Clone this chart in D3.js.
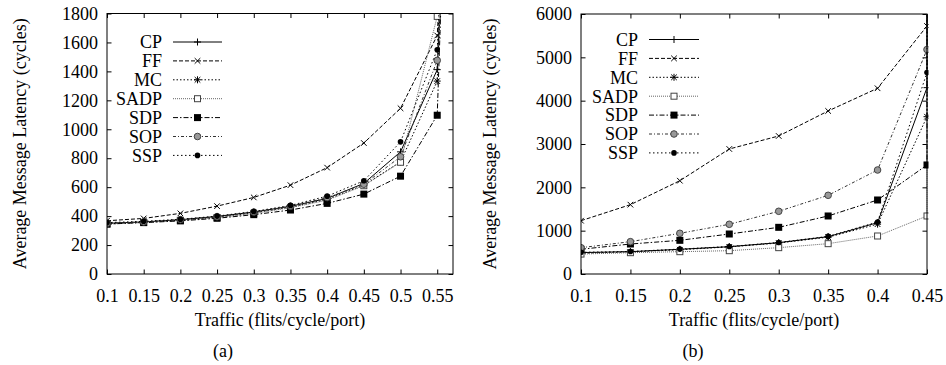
<!DOCTYPE html>
<html>
<head>
<meta charset="utf-8">
<script src="https://cdn.jsdelivr.net/npm/d3@7"></script>
<style>
  body { margin: 0; background: #fff; }
  svg { display: block; }
  text { font-family: "Liberation Serif", "Times New Roman", serif; fill: #000; }
</style>
</head>
<body>
<div id="chart"></div>
<script>
// ---- data ----
const seriesNames = ["CP", "FF", "MC", "SADP", "SDP", "SOP", "SSP"];

// panel (a)
const trafficA = [0.1, 0.15, 0.2, 0.25, 0.3, 0.35, 0.4, 0.45, 0.5, 0.55, 0.56];
const cpA   = [350, 360, 375, 398, 428, 468, 522, 626, 844, 1412, 2600];
const ffA   = [368, 384, 419, 469, 529, 614, 735, 905, 1145, 1648, 2600];
const mcA   = [348, 358, 372, 393, 422, 462, 515, 614, 775, 1333, 2600];
const sadpA = [345, 356, 370, 390, 418, 458, 510, 610, 772, 1780, 2600];
const sdpA  = [345, 355, 367, 385, 410, 442, 488, 552, 676, 1097, 2600];
const sopA  = [350, 360, 376, 396, 428, 468, 528, 620, 810, 1476, 2600];
const sspA  = [355, 364, 378, 400, 432, 474, 538, 644, 913, 1550, 2600];
const xTicksA = [0.1, 0.15, 0.2, 0.25, 0.3, 0.35, 0.4, 0.45, 0.5, 0.55];
const yTicksA = [0, 200, 400, 600, 800, 1000, 1200, 1400, 1600, 1800];

// panel (b)
const trafficB = [0.1, 0.15, 0.2, 0.25, 0.3, 0.35, 0.4, 0.45, 0.4502];
const cpB   = [495, 515, 570, 630, 723, 862, 1185, 4300, 9000];
const ffB   = [1230, 1600, 2153, 2885, 3185, 3762, 4286, 5723, 9000];
const mcB   = [480, 510, 560, 625, 715, 850, 1150, 3630, 9000];
const sadpB = [460, 492, 515, 538, 608, 700, 877, 1339, 9000];
const sdpB  = [570, 692, 777, 923, 1077, 1339, 1708, 2516, 9000];
const sopB  = [607, 746, 939, 1147, 1447, 1816, 2400, 5180, 9000];
const sspB  = [500, 520, 575, 635, 728, 868, 1200, 4650, 9000];
const xTicksB = [0.1, 0.15, 0.2, 0.25, 0.3, 0.35, 0.4, 0.45];
const yTicksB = [0, 1000, 2000, 3000, 4000, 5000, 6000];

const xTitle = "Traffic (flits/cycle/port)";
const yTitle = "Average Message Latency (cycles)";

// line / marker styles per series
const STYLE = {
    CP:   {stroke: "#000", dash: null,          marker: "plus"},
    FF:   {stroke: "#000", dash: "4,2",         marker: "cross"},
    MC:   {stroke: "#000", dash: "1.5,2",       marker: "star"},
    SADP: {stroke: "#666", dash: "1,1",         marker: "square"},
    SDP:  {stroke: "#000", dash: "5,2,1.5,2",   marker: "fsquare"},
    SOP:  {stroke: "#333", dash: "3,2,1,2",     marker: "circle"},
    SSP:  {stroke: "#000", dash: "1.5,2.5",     marker: "fcircle"}
};

const W = 946, H = 365;
const svg = d3.select("#chart").append("svg").attr("width", W).attr("height", H);

function drawMarker(g, type, cx, cy) {
    const m = g.append("g").attr("transform", `translate(${cx},${cy})`);
    const s = 3.5;
    if (type === "plus" || type === "star") {
        m.append("path").attr("d", `M${-s},0H${s}M0,${-s}V${s}`).attr("stroke", "#000").attr("stroke-width", 1);
    }
    if (type === "cross" || type === "star") {
        const d = 2.8;
        m.append("path").attr("d", `M${-d},${-d}L${d},${d}M${-d},${d}L${d},${-d}`).attr("stroke", "#000").attr("stroke-width", 1);
    }
    if (type === "square") {
        m.append("rect").attr("x", -3).attr("y", -3).attr("width", 6).attr("height", 6)
            .attr("fill", "#fff").attr("stroke", "#444").attr("stroke-width", 1);
    }
    if (type === "fsquare") {
        m.append("rect").attr("x", -3.5).attr("y", -3.5).attr("width", 7).attr("height", 7).attr("fill", "#000");
    }
    if (type === "circle") {
        m.append("circle").attr("r", 3.3).attr("fill", "#999").attr("stroke", "#444").attr("stroke-width", 1);
    }
    if (type === "fcircle") {
        m.append("circle").attr("r", 2.8).attr("fill", "#000");
    }
}

function drawPanel(p) {
    const {left, top, width, height} = p;
    const g = svg.append("g").attr("id", p.id).attr("transform", `translate(${left},${top})`);

    const x = d3.scaleLinear().domain(p.xDomain).range([0, width]);
    const y = d3.scaleLinear().domain(p.yDomain).range([height, 0]);

    // a little slack on the right so saturated (vertical) segments show on the border
    g.append("clipPath").attr("id", `clip-${p.id}`)
        .append("rect").attr("width", width + 1.5).attr("height", height);

    // axes with inward ticks, mirrored on top/right
    const tk = 4.5;
    const fmt = d => String(d);
    const ax = g.append("g").attr("class", "axes");
    ax.append("g").attr("transform", `translate(0,${height})`)
        .call(d3.axisBottom(x).tickValues(p.xTicks).tickSize(-tk).tickPadding(15).tickFormat(fmt));
    ax.append("g")
        .call(d3.axisTop(x).tickValues(p.xTicks).tickSize(-tk).tickFormat(""));
    ax.append("g")
        .call(d3.axisLeft(y).tickValues(p.yTicks).tickSize(-tk).tickPadding(9).tickFormat(fmt));
    ax.append("g").attr("transform", `translate(${width},0)`)
        .call(d3.axisRight(y).tickValues(p.yTicks).tickSize(-tk).tickFormat(""));
    ax.selectAll(".domain").remove();
    ax.selectAll(".tick line").attr("stroke", "#000").attr("stroke-width", 1);
    ax.selectAll(".tick text").style("font-family", "Liberation Serif").style("font-size", "18px");

    // series
    const plot = g.append("g").attr("clip-path", `url(#clip-${p.id})`);
    const line = d3.line().x(d => x(d[0])).y(d => y(d[1]));
    p.series.forEach((vals, i) => {
        const name = seriesNames[i];
        const st = STYLE[name];
        const pts = p.traffic.map((t, j) => [t, vals[j]]);
        plot.append("path").datum(pts)
            .attr("fill", "none")
            .attr("stroke", st.stroke)
            .attr("stroke-width", 1)
            .attr("stroke-dasharray", st.dash)
            .attr("d", line);
        pts.filter(d => d[0] <= p.xDomain[1] && d[1] <= p.yDomain[1])
            .forEach(d => drawMarker(plot, st.marker, x(d[0]), y(d[1])));
    });

    // frame
    g.append("rect").attr("width", width).attr("height", height)
        .attr("fill", "none").attr("stroke", "#000").attr("stroke-width", 1);

    // legend
    const lg = g.append("g").attr("class", "legend");
    seriesNames.forEach((name, i) => {
        const st = STYLE[name];
        const cy = p.legend.y0 - top + i * 18.9;
        lg.append("text")
            .attr("x", p.legend.textRight - left)
            .attr("y", cy)
            .attr("dy", "0.35em")
            .attr("text-anchor", "end")
            .style("font-size", "18px")
            .text(name);
        lg.append("line")
            .attr("x1", p.legend.x1 - left).attr("x2", p.legend.x2 - left)
            .attr("y1", cy).attr("y2", cy)
            .attr("stroke", st.stroke).attr("stroke-width", 1)
            .attr("stroke-dasharray", st.dash);
        drawMarker(lg, st.marker, (p.legend.x1 + p.legend.x2) / 2 - left, cy);
    });

    // titles
    svg.append("text")
        .attr("x", left + width / 2).attr("y", 326)
        .attr("text-anchor", "middle").style("font-size", "18px")
        .text(xTitle);
    svg.append("text")
        .attr("transform", `translate(${p.yTitleX},${top + height / 2}) rotate(-90)`)
        .attr("text-anchor", "middle").attr("dy", "0.35em").style("font-size", "18px")
        .text(yTitle);
    svg.append("text")
        .attr("x", p.captionX).attr("y", 357)
        .attr("text-anchor", "middle").style("font-size", "18px")
        .text(p.caption);
}

drawPanel({
    id: "panelA", left: 107, top: 13.5, width: 346, height: 260.5,
    xDomain: [0.1, 0.5715], yDomain: [0, 1800],
    xTicks: xTicksA, yTicks: yTicksA,
    traffic: trafficA, series: [cpA, ffA, mcA, sadpA, sdpA, sopA, sspA],
    legend: {textRight: 162, x1: 173, x2: 222, y0: 42},
    yTitleX: 20, captionX: 223, caption: "(a)"
});

drawPanel({
    id: "panelB", left: 581, top: 14, width: 346, height: 260,
    xDomain: [0.1, 0.45], yDomain: [0, 6000],
    xTicks: xTicksB, yTicks: yTicksB,
    traffic: trafficB, series: [cpB, ffB, mcB, sadpB, sdpB, sopB, sspB],
    legend: {textRight: 638, x1: 649, x2: 699, y0: 39.5},
    yTitleX: 490, captionX: 693, caption: "(b)"
});
</script>
</body>
</html>
